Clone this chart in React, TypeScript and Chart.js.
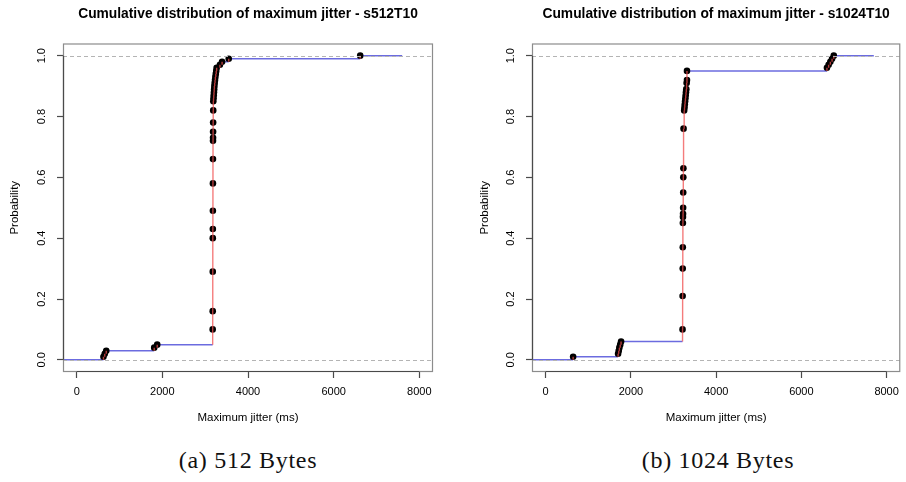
import React, { useEffect, useRef } from "react";
import { Chart, registerables } from "chart.js";

Chart.register(...registerables);

// ---- axes ----
const X_MIN = -320;
const X_MAX = 8320;
const Y_MIN = -0.04;
const Y_MAX = 1.04;
const xTicks = [0, 2000, 4000, 6000, 8000];
const yTicks = [0, 0.2, 0.4, 0.6, 0.8, 1.0];
const refLevels = [0, 1];
const xAxisLabel = "Maximum jitter (ms)";
const yAxisLabel = "Probability";

// ---- (a) 512 bytes ----
const title512 = "Cumulative distribution of maximum jitter - s512T10";
const caption512 = "(a) 512 Bytes";
const jitter512 = [
  625, 655, 690, 1810, 1880,
  3175, 3176, 3177, 3178, 3179, 3180, 3181, 3182, 3183, 3184, 3185, 3186,
  3188, 3190, 3195, 3200, 3205, 3210, 3215, 3222, 3230, 3238, 3248, 3258, 3268,
  3345, 3395, 3550, 6620,
];
const prob512 = [
  0.01, 0.02, 0.03, 0.04, 0.05,
  0.10, 0.16, 0.29, 0.40, 0.43, 0.49, 0.58, 0.66, 0.72, 0.73, 0.75, 0.78,
  0.82, 0.85, 0.86, 0.87, 0.88, 0.89, 0.90, 0.91, 0.92, 0.93, 0.94, 0.95, 0.96,
  0.97, 0.98, 0.99, 1.00,
];
const stepEnd512 = 7600;

// ---- (b) 1024 bytes ----
const title1024 = "Cumulative distribution of maximum jitter - s1024T10";
const caption1024 = "(b) 1024 Bytes";
const jitter1024 = [
  645, 1700, 1715, 1730, 1750, 1770,
  3212, 3214, 3216, 3218, 3220, 3222, 3224, 3226, 3228, 3230, 3232, 3236,
  3250, 3258, 3265, 3272, 3279, 3286, 3293, 3300, 3308, 3316, 3316,
  6600, 6640, 6680, 6720, 6760,
];
const prob1024 = [
  0.01, 0.02, 0.03, 0.04, 0.05, 0.06,
  0.10, 0.21, 0.30, 0.37, 0.45, 0.47, 0.48, 0.50, 0.55, 0.60, 0.63, 0.76,
  0.82, 0.83, 0.84, 0.85, 0.86, 0.87, 0.88, 0.89, 0.91, 0.92, 0.95,
  0.96, 0.97, 0.98, 0.99, 1.00,
];
const stepEnd1024 = 7700;

const SANS = '"Liberation Sans", Arial, Helvetica, sans-serif';
const BOX_COLOR = "#8c8c8c";
const AXIS_COLOR = "#4a4a4a";

type Pt = { x: number; y: number | null };

function buildSteps(xs: number[], ps: number[], start: number, end: number) {
  const hor: Pt[] = [];
  const vert: Pt[] = [];
  let prevX = start;
  let prevP = 0;
  for (let i = 0; i < xs.length; i++) {
    hor.push({ x: prevX, y: prevP }, { x: xs[i], y: prevP }, { x: xs[i], y: null });
    vert.push({ x: xs[i], y: prevP }, { x: xs[i], y: ps[i] }, { x: xs[i], y: null });
    prevX = xs[i];
    prevP = ps[i];
  }
  hor.push({ x: prevX, y: prevP }, { x: end, y: prevP });
  return { hor, vert };
}

const rFramePlugin = {
  id: "rFrame",
  afterDatasetsDraw(chart: any, _args: any, opts: any) {
    const { ctx, chartArea: a, scales } = chart;
    const xs = scales.x;
    const ys = scales.y;
    ctx.save();
    // reference dashed lines
    ctx.strokeStyle = "#b4b4b4";
    ctx.lineWidth = 1;
    ctx.setLineDash([4, 3]);
    for (const lv of refLevels) {
      const py = Math.round(ys.getPixelForValue(lv)) + 0.5;
      ctx.beginPath();
      ctx.moveTo(a.left, py);
      ctx.lineTo(a.right, py);
      ctx.stroke();
    }
    ctx.setLineDash([]);
    // box
    ctx.strokeStyle = BOX_COLOR;
    ctx.lineWidth = 1.2;
    ctx.strokeRect(a.left + 0.5, a.top + 0.5, a.right - a.left - 1, a.bottom - a.top - 1);
    // axis lines from first to last tick
    ctx.strokeStyle = AXIS_COLOR;
    ctx.lineWidth = 1.2;
    ctx.beginPath();
    ctx.moveTo(xs.getPixelForValue(xTicks[0]), a.bottom - 0.5);
    ctx.lineTo(xs.getPixelForValue(xTicks[xTicks.length - 1]), a.bottom - 0.5);
    ctx.moveTo(a.left + 0.5, ys.getPixelForValue(yTicks[0]));
    ctx.lineTo(a.left + 0.5, ys.getPixelForValue(yTicks[yTicks.length - 1]));
    ctx.stroke();
    // title
    ctx.fillStyle = "#000";
    ctx.font = `bold 13.8px ${SANS}`;
    ctx.textAlign = "center";
    ctx.textBaseline = "middle";
    ctx.fillText(opts.text, (a.left + a.right) / 2, 14);
    ctx.restore();
  },
};

type PanelProps = {
  title: string;
  xs: number[];
  ps: number[];
  stepEnd: number;
  width: number;
  yAxisWidth: number;
  padRight: number;
};

function EcdfPanel({ title, xs, ps, stepEnd, width, yAxisWidth, padRight }: PanelProps) {
  const ref = useRef<HTMLCanvasElement | null>(null);
  useEffect(() => {
    if (!ref.current) return;
    const { hor, vert } = buildSteps(xs, ps, X_MIN, stepEnd);
    const pts = xs.map((x, i) => ({ x, y: ps[i] }));
    const chart = new Chart(ref.current, {
      type: "line",
      data: {
        datasets: [
          {
            data: vert as any,
            borderColor: "rgba(240,80,80,0.75)",
            borderWidth: 1.4,
            pointRadius: 0,
            spanGaps: false,
            order: 1,
          },
          {
            data: pts as any,
            showLine: false,
            pointRadius: 3.3,
            pointBackgroundColor: "#000",
            pointBorderWidth: 0,
            pointBorderColor: "#000",
            order: 2,
          },
          {
            data: hor as any,
            borderColor: "rgba(70,70,215,0.8)",
            borderWidth: 1.5,
            pointRadius: 0,
            spanGaps: false,
            order: 3,
          },
        ],
      },
      options: {
        animation: false,
        responsive: false,
        parsing: true,
        layout: { padding: { top: 43.5, right: padRight, left: 0, bottom: 0 } },
        plugins: {
          legend: { display: false },
          tooltip: { enabled: false },
          title: { display: false },
          rFrame: { text: title },
        } as any,
        scales: {
          x: {
            type: "linear",
            min: X_MIN,
            max: X_MAX,
            afterBuildTicks: (s: any) => {
              s.ticks = xTicks.map((v) => ({ value: v }));
            },
            afterFit: (s: any) => {
              s.height = 68;
            },
            ticks: {
              font: { family: SANS, size: 11 },
              color: "#000",
              padding: 7,
              maxRotation: 0,
              minRotation: 0,
              autoSkip: false,
              callback: (v: any) => String(v),
            },
            grid: { drawOnChartArea: false, drawTicks: true, tickLength: 6, tickColor: AXIS_COLOR, tickWidth: 1.2 },
            border: { display: false },
            title: {
              display: true,
              text: xAxisLabel,
              font: { family: SANS, size: 11.5 },
              color: "#000",
              padding: { top: 0, bottom: 15.1 },
            },
          },
          y: {
            type: "linear",
            min: Y_MIN,
            max: Y_MAX,
            afterBuildTicks: (s: any) => {
              s.ticks = yTicks.map((v) => ({ value: v }));
            },
            afterFit: (s: any) => {
              s.width = yAxisWidth;
            },
            ticks: {
              font: { family: SANS, size: 11 },
              color: "#000",
              padding: 7,
              minRotation: 90,
              maxRotation: 90,
              crossAlign: "center",
              autoSkip: false,
              callback: (v: any) => Number(v).toFixed(1),
            },
            grid: { drawOnChartArea: false, drawTicks: true, tickLength: 6, tickColor: AXIS_COLOR, tickWidth: 1.2 },
            border: { display: false },
            title: {
              display: true,
              text: yAxisLabel,
              font: { family: SANS, size: 11.5 },
              color: "#000",
              padding: { top: 8.1, bottom: 0 },
            },
          },
        },
      } as any,
      plugins: [rFramePlugin],
    });
    return () => chart.destroy();
  }, [title, xs, ps, stepEnd, width, yAxisWidth, padRight]);
  return <canvas ref={ref} width={width} height={440} style={{ width, height: 440, display: "block" }} />;
}

const captionStyle: React.CSSProperties = {
  position: "absolute",
  top: 448,
  width: 300,
  textAlign: "center",
  fontFamily: '"Liberation Serif", "DejaVu Serif", serif',
  fontSize: 24,
  letterSpacing: "0.7px",
  lineHeight: "24px",
  color: "#111",
  whiteSpace: "nowrap",
};

export default function App() {
  return (
    <div style={{ position: "absolute", left: 0, top: 0, width: 906, height: 482, background: "#fff", overflow: "hidden" }}>
      <div style={{ position: "absolute", left: 0, top: 0 }}>
        <EcdfPanel title={title512} xs={jitter512} ps={prob512} stepEnd={stepEnd512} width={453} yAxisWidth={63} padRight={20} />
      </div>
      <div style={{ position: "absolute", left: 470, top: 0 }}>
        <EcdfPanel title={title1024} xs={jitter1024} ps={prob1024} stepEnd={stepEnd1024} width={436} yAxisWidth={62} padRight={4} />
      </div>
      <div style={{ ...captionStyle, left: 248 - 150 }}>{caption512}</div>
      <div style={{ ...captionStyle, left: 718 - 150 }}>{caption1024}</div>
    </div>
  );
}
